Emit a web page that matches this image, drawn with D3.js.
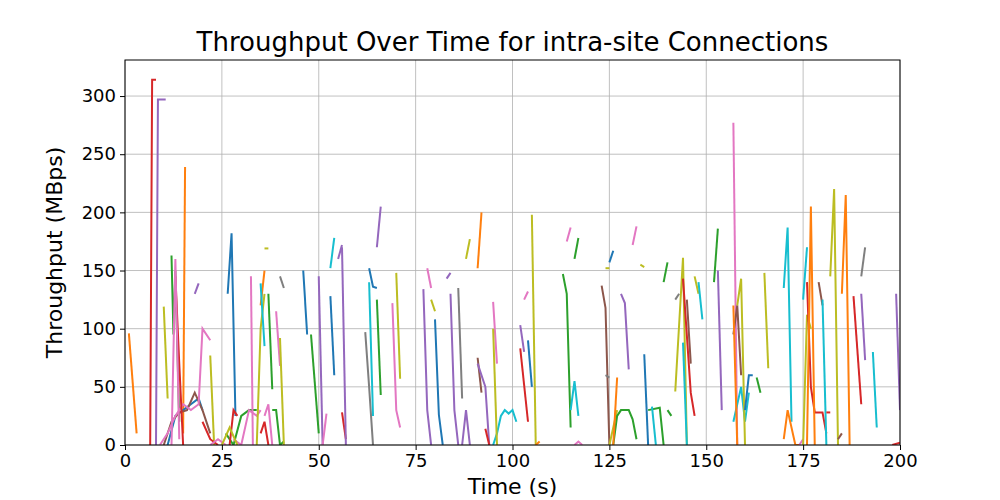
<!DOCTYPE html>
<html><head><meta charset="utf-8">
<script src="https://cdn.jsdelivr.net/npm/d3@7"></script>
<style>body{margin:0;background:#fff;font-family:"DejaVu Sans",sans-serif}</style>
</head><body><svg id="c" width="1000" height="500"></svg>
<script>
// tab10 colour keys
const palette = {blue:"#1f77b4",orange:"#ff7f0e",green:"#2ca02c",red:"#d62728",purple:"#9467bd",
  brown:"#8c564b",pink:"#e377c2",grey:"#7f7f7f",olive:"#bcbd22",teal:"#17becf"};

const xTicks = [0,25,50,75,100,125,150,175,200];
const yTicks = [0,50,100,150,200,250,300];

// each connection: [colour, [[time, MBps], ...]]
const connections = [
["orange",[[1,96],[3,10]]],["red",[[6.5,0],[7,314],[8,314]]],["purple",[[8,0],[8.5,297],[10.5,297]]],
["orange",[[15,10],[15.5,239]]],["olive",[[10,119],[11,40]]],["green",[[12,163],[12.5,95],[13,150],[14,20]]],
["blue",[[11,0],[13,25],[15,30],[17,35],[19,40],[20,30]]],["brown",[[10,0],[12,20],[14,28],[16,30],[18,45],[20,30],[22,10]]],
["pink",[[9,0],[11,10],[13,25],[15,35],[17,30],[19,35],[20,100],[22,90]]],["purple",[[18,130],[19,139]]],
["olive",[[22,77],[23,0]]],["red",[[13,145],[14,70],[15,0]]],["pink",[[12,0],[13,160],[14,5]]],
["red",[[20,20],[22,5],[24,0]]],["pink",[[22,0],[24,5],[26,0]]],
["blue",[[26.5,130],[27.5,182],[28.5,25]]],["green",[[26,10],[28,0],[30,25],[32,30],[34,30]]],
["pink",[[28,5],[30,0],[32,30],[34,25],[35,30]]],["red",[[27,0],[28,30],[29,25]]],["olive",[[25,0],[27,15],[29,0]]],
["pink",[[32.5,145],[33,0]]],["olive",[[36,169],[37,169]]],["olive",[[34,0],[35,100],[36,130]]],
["orange",[[35,120],[36,150]]],["teal",[[35,139],[36,85]]],["green",[[37,130],[38,48]]],["pink",[[39,115],[40,68]]],
["green",[[38,30],[39,30],[40,0],[41,3]]],["grey",[[40,145],[41,135]]],["olive",[[40,92],[41,0]]],
["pink",[[36,25],[37,35],[38,0]]],["red",[[35,10],[36,20],[37,0]]],
["blue",[[46,150],[47,95]]],["green",[[48,95],[50,10]]],["purple",[[50,145],[51,0]]],["pink",[[51,0],[52,27]]],
["teal",[[53,152],[54,178]]],["blue",[[53,128],[54,60]]],["purple",[[55,160],[56,172]]],["red",[[56,28],[57,5]]],
["purple",[[56,170],[57,0]]],
["grey",[[62,97],[63,50],[64,0]]],["teal",[[63,140],[64,25]]],["blue",[[63,152],[64,136],[65,135]]],
["purple",[[65,170],[66,205]]],["green",[[65,125],[66,43]]],["olive",[[70,148],[71,57]]],
["pink",[[69,122],[70,30],[71,15]]],["pink",[[78,152],[79,135]]],["olive",[[79,125],[80,115]]],
["blue",[[80,108],[81,26],[82,0]]],["purple",[[77,134],[78,30],[79,0]]],["purple",[[83,143],[84,148]]],
["purple",[[84,130],[85,30],[86,0]]],["grey",[[86,135],[87,40]]],["olive",[[88,160],[89,177]]],
["purple",[[87,0],[88,30],[89,0]]],["brown",[[91,75],[92,45]]],["orange",[[91,152],[92,200]]],
["purple",[[91,70],[93,50],[94,0]]],["red",[[93,14],[94,0]]],
["teal",[[95,0],[96,10],[97,25],[98,30],[99,27],[100,30],[101,20]]],["pink",[[95,123],[96,70]]],["olive",[[95,100],[96,0]]],
["purple",[[102,103],[103,80]]],["red",[[102,83],[104,20]]],["pink",[[103,125],[104,132]]],["blue",[[104,90],[105,50]]],
["olive",[[105,198],[106,0]]],["orange",[[106,0],[107,3]]],
["green",[[113,147],[114,130],[115,15]]],["pink",[[114,175],[115,187]]],["teal",[[115,30],[116,55],[117,25]]],
["green",[[116,160],[117,178]]],["pink",[[116,0],[117,3],[118,0]]],["brown",[[123,137],[124,118],[125,0]]],
["grey",[[124,60],[125,58]]],["olive",[[124,152],[125,152]]],["blue",[[125,157],[126,167]]],["olive",[[125,0],[127,30]]],
["green",[[126,0],[127,25],[128,30],[130,30],[131,22],[132,5]]],["purple",[[128,130],[129,122],[130,65]]],
["orange",[[126,0],[127,58]]],["pink",[[131,172],[132,188]]],["olive",[[133,155],[134,153]]],["blue",[[134,78],[135,0]]],
["green",[[135,30],[138,32],[139,0]]],["teal",[[136,33],[137,0]]],["green",[[139,140],[140,157]]],["green",[[140,30],[141,25]]],
["grey",[[142,125],[143,130]]],["olive",[[142,46],[144,161],[145,0]]],["brown",[[145,125],[146,70]]],["teal",[[144,88],[145,0]]],
["red",[[144,143],[146,45],[147,25]]],["olive",[[147,145],[148,130]]],["teal",[[148,140],[149,108]]],
["green",[[152,140],[153,186]]],["purple",[[153,150],[154,30]]],["pink",[[157,277],[158,0]]],
["brown",[[157,95],[158,120],[159,60]]],["teal",[[157,20],[159,50],[160,20],[161,45]]],["olive",[[158,120],[159,143],[160,0]]],
["orange",[[157,120],[158,0]]],["blue",[[160,30],[161,60],[162,60]]],["olive",[[165,148],[166,66]]],["green",[[163,58],[164,45]]],
["teal",[[170,135],[171,187],[172,20]]],["orange",[[170,5],[171,30],[173,0],[174,0]]],["pink",[[174,0],[175,5]]],
["olive",[[175,0],[176,112],[177,100]]],["teal",[[175,125],[176,170]]],["red",[[176,140],[177,50],[178,28],[180,28],[181,10]]],
["orange",[[176,0],[177,205],[178,0]]],["brown",[[179,140],[180,120]]],["teal",[[180,125],[181,0]]],["red",[[181,28],[182,28]]],
["olive",[[182,145],[183,220],[184,0]]],["brown",[[184,5],[185,10]]],["orange",[[185,130],[186,215],[187,0]]],
["red",[[188,128],[190,35]]],["grey",[[190,145],[191,170]]],["purple",[[190,130],[191,73]]],["teal",[[193,80],[194,15]]],
["purple",[[199,130],[200,30]]],["red",[[198,0],[200,2]]]
];

const svg = d3.select("#c");
const m = {left:125, right:900, top:60, bottom:445};
const x = d3.scaleLinear().domain([0,200]).range([m.left,m.right]);
const y = d3.scaleLinear().domain([0,331]).range([m.bottom,m.top]);

// grid
svg.append("g").selectAll("line").data(xTicks).join("line")
  .attr("x1",d=>x(d)).attr("x2",d=>x(d)).attr("y1",m.top).attr("y2",m.bottom)
  .attr("stroke","#b0b0b0").attr("stroke-width",0.8);
svg.append("g").selectAll("line").data(yTicks).join("line")
  .attr("y1",d=>y(d)).attr("y2",d=>y(d)).attr("x1",m.left).attr("x2",m.right)
  .attr("stroke","#b0b0b0").attr("stroke-width",0.8);

svg.append("clipPath").attr("id","pc").append("rect")
  .attr("x",m.left).attr("y",m.top).attr("width",m.right-m.left).attr("height",m.bottom-m.top);

const line = d3.line().x(d=>x(d[0])).y(d=>y(d[1]));
svg.append("g").attr("clip-path","url(#pc)").selectAll("path").data(connections).join("path")
  .attr("d",d=>line(d[1])).attr("fill","none").attr("stroke",d=>palette[d[0]]).attr("stroke-width",2);

svg.append("rect").attr("x",m.left).attr("y",m.top).attr("width",m.right-m.left).attr("height",m.bottom-m.top)
  .attr("fill","none").attr("stroke","#000").attr("stroke-width",1);

const xa = svg.append("g").attr("transform",`translate(0,${m.bottom})`)
  .call(d3.axisBottom(x).tickValues(xTicks).tickSize(5).tickPadding(4));
const ya = svg.append("g").attr("transform",`translate(${m.left},0)`)
  .call(d3.axisLeft(y).tickValues(yTicks).tickSize(5).tickPadding(4));
[xa,ya].forEach(a=>{a.select(".domain").remove();
  a.selectAll("text").attr("font-family","DejaVu Sans").attr("font-size",18).attr("fill","#000");});

svg.append("text").attr("x",(m.left+m.right)/2).attr("y",51).attr("text-anchor","middle")
  .attr("font-size",26).text("Throughput Over Time for intra-site Connections");
svg.append("text").attr("x",(m.left+m.right)/2).attr("y",494).attr("text-anchor","middle")
  .attr("font-size",22).text("Time (s)");
svg.append("text").attr("transform",`translate(62,${(m.top+m.bottom)/2}) rotate(-90)`).attr("text-anchor","middle")
  .attr("font-size",22).text("Throughput (MBps)");
</script></body></html>
